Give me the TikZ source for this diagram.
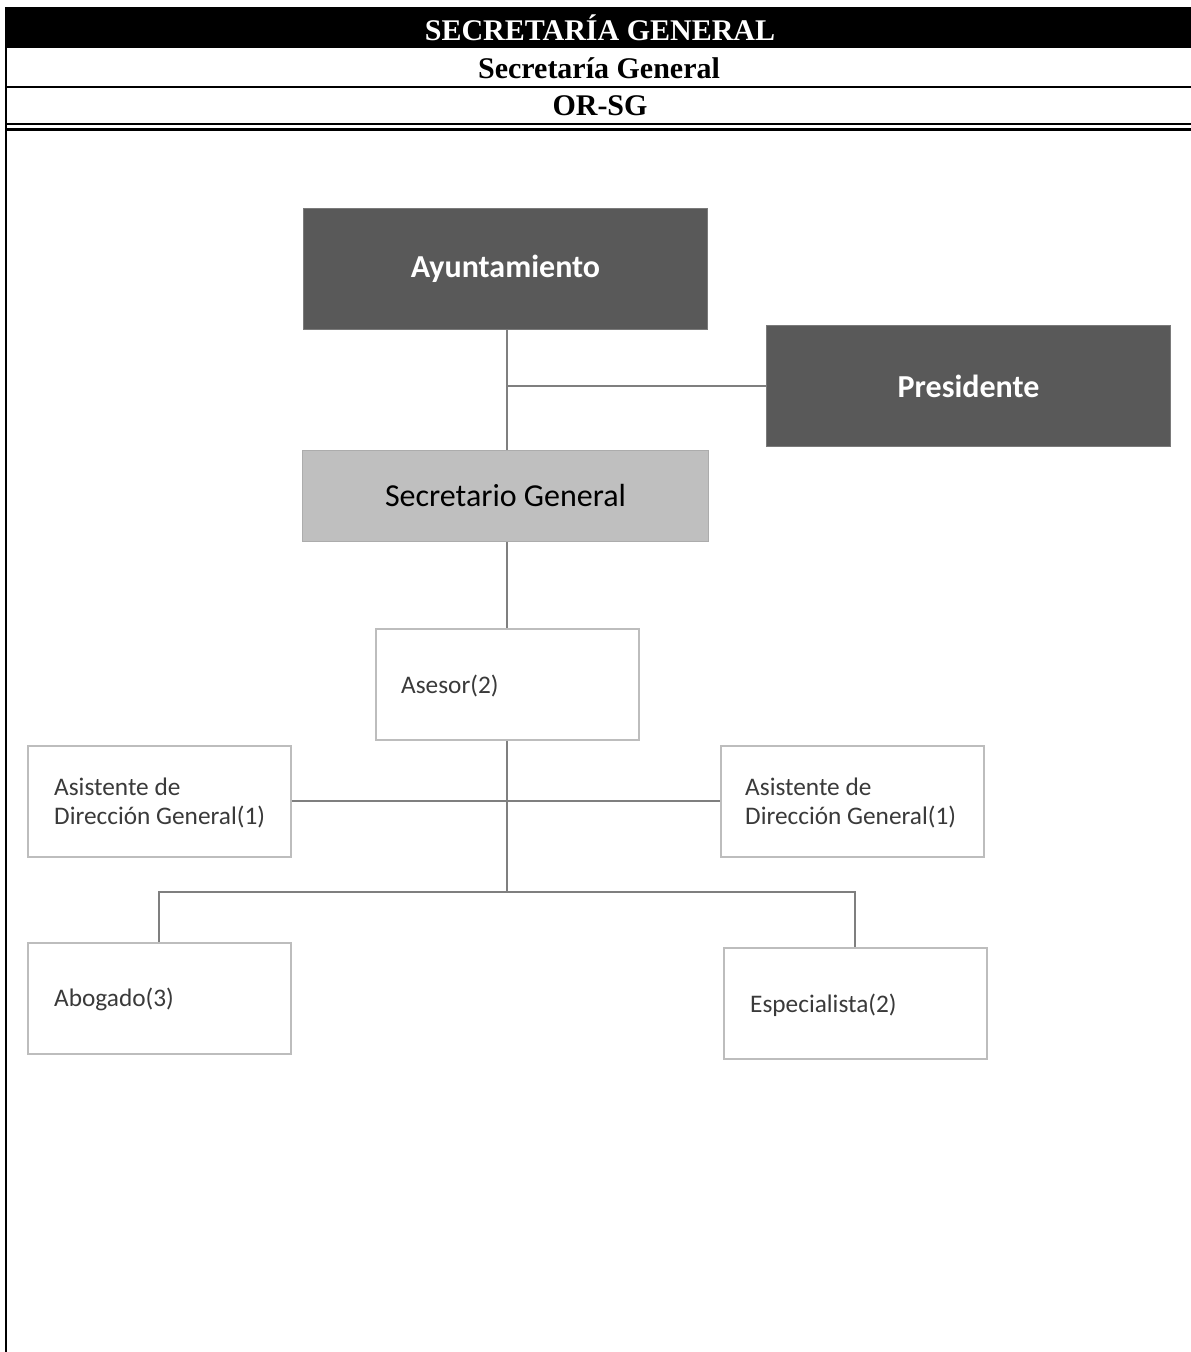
\documentclass[tikz,border=0pt]{standalone}
\usepackage{fontspec}
\setmainfont{Liberation Serif}
\newfontfamily\calib{Carlito}
\usetikzlibrary{calc}
\definecolor{darkbox}{HTML}{595959}
\definecolor{lightbox}{HTML}{BFBFBF}
\definecolor{boxline}{HTML}{BDBDBD}
\definecolor{connline}{HTML}{7F7F7F}
\definecolor{txtgray}{HTML}{3A3A3A}
\tikzset{
  darknode/.style={fill=darkbox, draw=darkbox!80!white, line width=1pt, minimum width=404pt, minimum height=121pt, inner sep=0pt, text=white, font=\calib\bfseries\fontsize{32}{38}\selectfont},
  lightnode/.style={fill=lightbox, draw=lightbox!90!black, line width=1pt, minimum width=406pt, minimum height=91pt, inner sep=0pt, text=black, font=\calib\fontsize{32}{38}\selectfont},
  whitebox/.style={fill=white, draw=boxline, line width=1.5pt, minimum width=263pt, minimum height=111pt, inner sep=0pt},
  boxlabel/.style={anchor=west, inner sep=0pt, text=txtgray, align=left, font=\calib\fontsize{25.3}{29}\selectfont},
  conn/.style={draw=connline, line width=2pt},
  rule/.style={draw=black, line width=2.5pt},
  headtxt/.style={inner sep=0pt, font=\bfseries\fontsize{30}{34}\selectfont}
}
\begin{document}
\begin{tikzpicture}[x=1pt, y=-1pt]
\useasboundingbox (0,0) rectangle (1191,1352);
\fill[white] (0,0) rectangle (1191,1352);
% header
\fill[black] (5,7) rectangle (1191,48);
\node[headtxt, text=white] (h1) at (600,28) {SECRETARÍA GENERAL};
\node[headtxt] (h2) at (599,68) {Secretaría General};
\node[headtxt] (h3) at (600,106) {OR-SG};
\draw[rule] (5,87) -- (1191,87);
\draw[rule] (5,124) -- (1191,124);
\draw[rule] (5,129.5) -- (1191,129.5);
\draw[rule] (6,7) -- (6,1352);
% boxes
\node[darknode, anchor=north west] (ayu) at (303,208) {Ayuntamiento};
\node[darknode, anchor=north west] (pres) at (766,325) {Presidente};
\node[lightnode, anchor=north west] (sec) at (302,450) {Secretario General};
\node[whitebox, anchor=north west] (ase) at (375,628) {};
\node[whitebox, anchor=north west] (asl) at (27,745) {};
\node[whitebox, anchor=north west] (asr) at (720,745) {};
\node[whitebox, anchor=north west] (abo) at (27,942) {};
\node[whitebox, anchor=north west] (esp) at (723,947) {};
\node[boxlabel] (aset) at ($(ase.west)+(26,2)$) {Asesor(2)};
\node[boxlabel] (aslt) at ($(asl.west)+(27,2)$) {Asistente de\\Dirección General(1)};
\node[boxlabel] (asrt) at ($(asr.west)+(25,2)$) {Asistente de\\Dirección General(1)};
\node[boxlabel] (abot) at ($(abo.west)+(27,1)$) {Abogado(3)};
\node[boxlabel] (espt) at ($(esp.west)+(27,2)$) {Especialista(2)};
% connectors
\coordinate (hub) at (507,892);
\draw[conn] (ayu.south -| hub) -- (sec.north -| hub);
\draw[conn] (pres.west) -- (pres.west -| hub);
\draw[conn] (sec.south -| hub) -- (ase.north -| hub);
\draw[conn] (ase.south -| hub) -- (hub);
\draw[conn] (asl.east) -- (asr.west);
\draw[conn] (abo.north) |- (hub) -| (esp.north);
\end{tikzpicture}
\end{document}
